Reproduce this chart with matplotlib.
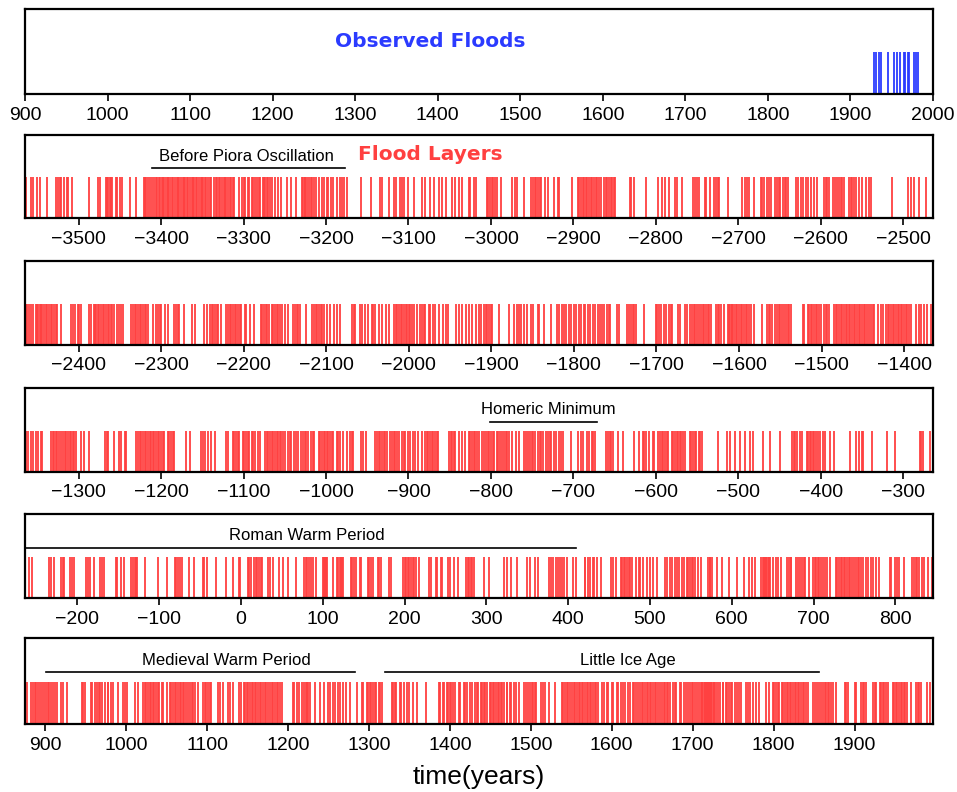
import matplotlib
matplotlib.use("Agg")
import matplotlib.pyplot as plt
from matplotlib.ticker import MultipleLocator

RED = "#ff4040"
BLUE = "#2b3bff"

# observed floods (years AD)
observed_floods = [1929, 1931, 1934, 1937, 1946, 1953, 1956, 1960, 1965, 1966,
                   1970, 1971, 1977, 1979, 1982]

# flood layers (years, negative = BC)
layers_a = [
    -3564, -3558, -3555, -3551, -3547, -3538, -3527, -3525, -3523, -3521, -3518, -3514, -3513, -3508,
    -3488, -3476, -3474, -3467, -3466, -3464, -3462, -3461, -3460, -3455, -3453, -3450, -3447, -3438,
    -3430, -3421, -3419, -3418, -3416, -3413, -3411, -3409, -3406, -3405, -3403, -3401, -3399, -3398,
    -3396, -3394, -3392, -3391, -3389, -3387, -3385, -3383, -3381, -3380, -3378, -3376, -3374, -3372,
    -3371, -3369, -3367, -3365, -3363, -3361, -3360, -3358, -3356, -3354, -3352, -3350, -3349, -3347,
    -3345, -3343, -3341, -3339, -3336, -3334, -3332, -3330, -3328, -3326, -3324, -3323, -3321, -3319,
    -3317, -3315, -3313, -3311, -3306, -3302, -3299, -3298, -3295, -3293, -3290, -3288, -3286, -3284,
    -3281, -3280, -3277, -3275, -3274, -3271, -3270, -3268, -3265, -3262, -3258, -3254, -3247, -3242,
    -3236, -3229, -3228, -3226, -3225, -3223, -3221, -3218, -3217, -3215, -3212, -3209, -3205, -3203,
    -3199, -3198, -3194, -3191, -3187, -3183, -3181, -3178, -3175, -3157, -3146, -3134, -3132, -3124,
    -3118, -3115, -3110, -3108, -3105, -3100, -3093, -3084, -3080, -3074, -3069, -3063, -3059, -3054,
    -3047, -3043, -3039, -3035, -3027, -3025, -3020, -3018, -3005, -3003, -3001, -2999, -2997, -2995,
    -2993, -2988, -2974, -2971, -2969, -2960, -2951, -2949, -2947, -2945, -2943, -2941, -2939, -2935,
    -2931, -2923, -2919, -2917, -2902, -2895, -2893, -2891, -2889, -2887, -2885, -2883, -2881, -2879,
    -2877, -2875, -2873, -2871, -2869, -2867, -2863, -2861, -2859, -2857, -2855, -2853, -2851, -2849,
    -2832, -2830, -2826, -2812, -2797, -2792, -2789, -2784, -2777, -2774, -2768, -2755, -2752, -2750,
    -2748, -2741, -2739, -2735, -2729, -2727, -2725, -2724, -2712, -2696, -2692, -2689, -2687, -2681,
    -2673, -2671, -2669, -2665, -2663, -2661, -2656, -2653, -2651, -2649, -2646, -2644, -2642, -2640,
    -2630, -2628, -2624, -2622, -2618, -2616, -2612, -2608, -2605, -2596, -2594, -2592, -2590, -2585,
    -2583, -2581, -2578, -2576, -2574, -2572, -2566, -2564, -2562, -2560, -2557, -2554, -2550, -2545,
    -2542, -2539, -2514, -2494, -2491, -2487, -2481, -2472,
]

layers_b = [
    -2464, -2462, -2460, -2458, -2455, -2452, -2451, -2449, -2447, -2446, -2444, -2442, -2440, -2438,
    -2436, -2434, -2432, -2430, -2428, -2426, -2421, -2409, -2407, -2405, -2401, -2399, -2397, -2387,
    -2385, -2382, -2380, -2379, -2377, -2375, -2373, -2371, -2369, -2367, -2365, -2363, -2361, -2359,
    -2357, -2353, -2351, -2349, -2346, -2336, -2334, -2332, -2330, -2328, -2326, -2324, -2322, -2320,
    -2318, -2316, -2310, -2306, -2304, -2302, -2300, -2296, -2292, -2284, -2282, -2280, -2278, -2272,
    -2263, -2259, -2248, -2245, -2241, -2239, -2237, -2235, -2233, -2231, -2228, -2221, -2219, -2217,
    -2215, -2213, -2211, -2209, -2207, -2205, -2203, -2199, -2197, -2192, -2187, -2179, -2178, -2175,
    -2173, -2172, -2170, -2166, -2164, -2162, -2160, -2158, -2156, -2154, -2150, -2146, -2140, -2138,
    -2136, -2134, -2132, -2124, -2117, -2115, -2113, -2111, -2109, -2107, -2105, -2103, -2099, -2095,
    -2091, -2087, -2083, -2069, -2067, -2065, -2059, -2057, -2053, -2049, -2045, -2043, -2041, -2036,
    -2032, -2028, -2024, -2018, -2016, -2014, -2012, -2010, -2008, -2006, -2004, -2002, -2000, -1998,
    -1996, -1994, -1990, -1986, -1984, -1982, -1980, -1976, -1974, -1971, -1968, -1964, -1959, -1955,
    -1952, -1943, -1939, -1935, -1931, -1927, -1923, -1919, -1915, -1912, -1909, -1907, -1905, -1903,
    -1901, -1899, -1891, -1879, -1873, -1869, -1867, -1864, -1861, -1857, -1852, -1849, -1844, -1842,
    -1836, -1828, -1820, -1818, -1815, -1812, -1809, -1806, -1803, -1800, -1797, -1794, -1791, -1788,
    -1786, -1783, -1780, -1777, -1774, -1771, -1768, -1766, -1763, -1760, -1758, -1756, -1748, -1745,
    -1736, -1733, -1731, -1729, -1727, -1725, -1715, -1701, -1699, -1697, -1695, -1691, -1688, -1685,
    -1683, -1681, -1674, -1672, -1665, -1663, -1659, -1657, -1655, -1653, -1651, -1649, -1646, -1644,
    -1642, -1640, -1638, -1636, -1634, -1628, -1626, -1624, -1622, -1618, -1613, -1612, -1611, -1609,
    -1608, -1606, -1604, -1602, -1600, -1598, -1596, -1594, -1592, -1590, -1588, -1586, -1582, -1572,
    -1566, -1564, -1562, -1560, -1556, -1554, -1552, -1550, -1548, -1546, -1543, -1541, -1539, -1537,
    -1523, -1521, -1517, -1515, -1513, -1511, -1509, -1507, -1505, -1503, -1501, -1497, -1495, -1493,
    -1491, -1485, -1483, -1481, -1479, -1477, -1475, -1473, -1471, -1469, -1467, -1465, -1463, -1461,
    -1459, -1457, -1455, -1453, -1451, -1449, -1447, -1445, -1442, -1440, -1438, -1436, -1432, -1428,
    -1426, -1422, -1420, -1418, -1416, -1414, -1412, -1410, -1408, -1406, -1404, -1402, -1400, -1398,
    -1396, -1394, -1392, -1386, -1382, -1380, -1376, -1372, -1368,
]

layers_c = [
    -1364, -1361, -1358, -1355, -1352, -1349, -1346, -1344, -1333, -1331, -1330, -1328, -1326, -1324,
    -1321, -1319, -1317, -1315, -1313, -1311, -1309, -1307, -1305, -1303, -1297, -1293, -1287, -1268,
    -1266, -1264, -1257, -1251, -1249, -1244, -1242, -1230, -1228, -1226, -1224, -1222, -1220, -1218,
    -1216, -1214, -1212, -1210, -1208, -1206, -1204, -1202, -1200, -1198, -1196, -1192, -1190, -1188,
    -1186, -1184, -1170, -1165, -1151, -1149, -1147, -1143, -1139, -1135, -1121, -1119, -1113, -1111,
    -1109, -1107, -1105, -1101, -1099, -1097, -1095, -1093, -1090, -1088, -1086, -1082, -1080, -1074,
    -1072, -1070, -1068, -1066, -1064, -1062, -1060, -1058, -1056, -1054, -1052, -1050, -1046, -1044,
    -1042, -1039, -1036, -1034, -1030, -1028, -1026, -1024, -1022, -1018, -1016, -1014, -1009, -1007,
    -1005, -1003, -1001, -999, -997, -995, -993, -991, -987, -985, -983, -979, -975, -971, -969, -967,
    -957, -955, -951, -940, -938, -936, -934, -932, -930, -928, -926, -922, -920, -918, -916, -914,
    -912, -908, -906, -904, -900, -898, -894, -892, -888, -884, -880, -878, -876, -874, -872, -870,
    -868, -866, -864, -851, -849, -847, -845, -843, -839, -835, -831, -827, -825, -823, -821, -819,
    -817, -814, -811, -808, -806, -804, -802, -800, -798, -796, -793, -791, -789, -787, -784, -782,
    -780, -778, -774, -770, -766, -760, -757, -755, -753, -750, -749, -746, -743, -741, -739, -737,
    -733, -731, -729, -727, -723, -721, -718, -715, -713, -703, -695, -691, -689, -683, -681, -678,
    -676, -674, -661, -658, -656, -654, -652, -646, -640, -626, -620, -616, -614, -612, -608, -604,
    -602, -597, -595, -593, -591, -589, -587, -585, -581, -579, -577, -575, -573, -571, -569, -567,
    -565, -559, -557, -555, -553, -551, -548, -546, -544, -525, -514, -510, -504, -498, -492, -486,
    -482, -470, -462, -450, -435, -433, -431, -429, -425, -423, -417, -415, -413, -412, -410, -408,
    -406, -403, -401, -397, -395, -389, -384, -365, -357, -354, -350, -349, -338, -320, -310, -280,
    -278, -276, -268,
]

layers_d = [
    -259, -256, -235, -232, -228, -220, -218, -216, -209, -207, -204, -189, -187, -185, -180, -172,
    -170, -167, -153, -151, -147, -143, -134, -132, -130, -128, -127, -117, -102, -90, -81, -79, -77,
    -74, -72, -63, -57, -47, -45, -41, -31, -18, -10, -3, -1, 8, 10, 12, 16, 18, 20, 22, 24, 26, 33,
    36, 39, 47, 52, 57, 67, 77, 79, 81, 83, 86, 88, 92, 100, 101, 103, 104, 105, 112, 118, 119, 121,
    122, 124, 125, 134, 136, 138, 141, 145, 147, 155, 157, 159, 161, 167, 169, 171, 181, 183, 198,
    200, 202, 204, 206, 208, 210, 212, 214, 218, 230, 232, 238, 240, 244, 246, 253, 255, 261, 265,
    275, 277, 279, 281, 283, 285, 297, 303, 322, 325, 330, 337, 350, 353, 359, 363, 376, 379, 382,
    385, 387, 390, 393, 395, 398, 406, 409, 420, 421, 424, 427, 430, 432, 435, 440, 452, 455, 458,
    464, 466, 468, 470, 472, 474, 476, 478, 483, 486, 488, 492, 496, 500, 504, 508, 518, 521, 524,
    527, 531, 533, 536, 539, 542, 545, 547, 549, 551, 553, 555, 559, 562, 571, 573, 574, 576, 582,
    588, 597, 607, 615, 621, 625, 629, 636, 638, 639, 641, 642, 643, 645, 646, 647, 650, 654, 656,
    660, 668, 670, 672, 673, 679, 681, 683, 686, 688, 690, 694, 699, 702, 703, 705, 707, 709, 711,
    714, 717, 720, 728, 729, 731, 733, 735, 737, 739, 741, 743, 745, 747, 749, 752, 754, 756, 758,
    761, 764, 767, 770, 773, 776, 780, 793, 795, 800, 802, 805, 811, 820, 823, 825, 827, 829, 833,
    835, 840, 845,
]

layers_e = [
    878, 882, 885, 887, 889, 891, 893, 896, 899, 901, 903, 905, 907, 909, 912, 914, 920, 922, 927,
    945, 947, 949, 956, 958, 961, 964, 966, 968, 970, 974, 977, 978, 981, 984, 990, 996, 998, 1001,
    1011, 1015, 1021, 1023, 1025, 1027, 1029, 1031, 1033, 1035, 1037, 1039, 1041, 1044, 1046, 1050,
    1054, 1056, 1058, 1060, 1062, 1064, 1066, 1068, 1070, 1072, 1074, 1077, 1079, 1081, 1083, 1085,
    1089, 1095, 1097, 1099, 1101, 1103, 1105, 1114, 1116, 1120, 1126, 1128, 1132, 1140, 1142, 1145,
    1147, 1149, 1151, 1153, 1155, 1157, 1159, 1161, 1163, 1165, 1167, 1169, 1171, 1173, 1175, 1178,
    1180, 1182, 1184, 1186, 1188, 1190, 1193, 1206, 1208, 1211, 1213, 1217, 1220, 1222, 1223, 1225,
    1227, 1233, 1239, 1244, 1250, 1252, 1256, 1258, 1262, 1264, 1268, 1272, 1277, 1285, 1291, 1293,
    1297, 1299, 1301, 1303, 1305, 1307, 1309, 1312, 1314, 1316, 1328, 1330, 1332, 1334, 1338, 1340,
    1343, 1347, 1349, 1355, 1359, 1371, 1386, 1388, 1391, 1393, 1396, 1398, 1400, 1402, 1404, 1406,
    1411, 1413, 1417, 1419, 1421, 1425, 1427, 1431, 1433, 1435, 1438, 1440, 1442, 1444, 1446, 1449,
    1451, 1453, 1455, 1457, 1459, 1461, 1463, 1465, 1467, 1470, 1471, 1474, 1475, 1479, 1482, 1485,
    1492, 1494, 1497, 1499, 1501, 1503, 1505, 1507, 1512, 1515, 1518, 1522, 1530, 1538, 1540, 1542,
    1545, 1546, 1549, 1551, 1553, 1555, 1557, 1559, 1561, 1563, 1565, 1567, 1569, 1571, 1573, 1575,
    1577, 1579, 1581, 1583, 1588, 1590, 1594, 1596, 1600, 1602, 1606, 1608, 1612, 1614, 1616, 1620,
    1623, 1626, 1627, 1630, 1633, 1635, 1637, 1639, 1641, 1643, 1645, 1647, 1649, 1651, 1653, 1655,
    1657, 1660, 1662, 1664, 1666, 1668, 1670, 1672, 1676, 1678, 1680, 1684, 1686, 1689, 1692, 1694,
    1697, 1699, 1701, 1703, 1705, 1708, 1710, 1711, 1712, 1714, 1715, 1716, 1718, 1719, 1720, 1722,
    1723, 1724, 1726, 1727, 1729, 1731, 1734, 1737, 1738, 1741, 1743, 1745, 1747, 1749, 1752, 1755,
    1757, 1760, 1766, 1768, 1771, 1775, 1778, 1782, 1791, 1794, 1799, 1801, 1803, 1805, 1807, 1810,
    1812, 1814, 1816, 1818, 1820, 1822, 1824, 1826, 1828, 1830, 1832, 1834, 1836, 1838, 1840, 1842,
    1849, 1851, 1854, 1856, 1859, 1861, 1863, 1865, 1867, 1869, 1871, 1873, 1877, 1888, 1890, 1892,
    1900, 1902, 1908, 1910, 1912, 1914, 1923, 1925, 1927, 1931, 1933, 1935, 1937, 1939, 1941, 1947,
    1949, 1951, 1953, 1955, 1957, 1959, 1961, 1963, 1965, 1970, 1976, 1978, 1980, 1982, 1990, 1993,
]

# x-range of each panel (years)
panel_ranges = [(900, 2000), (-3565, -2464), (-2465, -1365), (-1365, -264), (-264, 846), (875, 1997)]

# climate periods: (panel, label, start, end, label centre)
periods = [
    (1, "Before Piora Oscillation", -3411, -3177, -3296),
    (3, "Homeric Minimum", -801, -672, -731),
    (4, "Roman Warm Period", -264, 409, 81),
    (5, "Medieval Warm Period", 901, 1283, 1124),
    (5, "Little Ice Age", 1320, 1856, 1620),
]

W, H = 957, 792
# panel boxes in pixels (top, bottom)
boxes = [(9, 94), (135, 218), (261, 345), (388, 472), (514, 598), (638, 724)]
LEFT, RIGHT = 25, 933

fig = plt.figure(figsize=(W / 100, H / 100), dpi=100)
axes = []
for top, bottom in boxes:
    ax = fig.add_axes([LEFT / W, 1 - bottom / H, (RIGHT - LEFT) / W, (bottom - top) / H])
    axes.append(ax)

series = [observed_floods, layers_a, layers_b, layers_c, layers_d, layers_e]
for i, (ax, years) in enumerate(zip(axes, series)):
    color = BLUE if i == 0 else RED
    ax.vlines(years, 0, 0.49, transform=ax.get_xaxis_transform(), color=color, linewidth=1.3)
    ax.set_xlim(*panel_ranges[i])
    ax.set_ylim(0, 1)
    ax.xaxis.set_major_locator(MultipleLocator(100))
    ax.set_yticks([])
    ax.tick_params(axis="x", direction="out", length=5, width=1.2, pad=4,
                   labelsize=14, labelfontfamily="Liberation Sans")
    for sp in ax.spines.values():
        sp.set_linewidth(1.6)

axes[0].text(1391, 0.62, "Observed Floods", transform=axes[0].get_xaxis_transform(),
             ha="center", va="center", color=BLUE, fontsize=14.5, fontweight="bold")
axes[1].text(-3073, 0.76, "Flood Layers", transform=axes[1].get_xaxis_transform(),
             ha="center", va="center", color=RED, fontsize=14.5, fontweight="bold")

for idx, label, start, end, centre in periods:
    ax = axes[idx]
    tr = ax.get_xaxis_transform()
    ax.plot([start, end], [0.6, 0.6], transform=tr, color="black", linewidth=1.2, clip_on=False)
    ax.text(centre, 0.74, label, transform=tr, ha="center", va="center",
            fontsize=12, family="Liberation Sans")

axes[-1].set_xlabel("time(years)", fontsize=19, family="Liberation Sans", labelpad=8)

fig.savefig("out.png", dpi=100)
